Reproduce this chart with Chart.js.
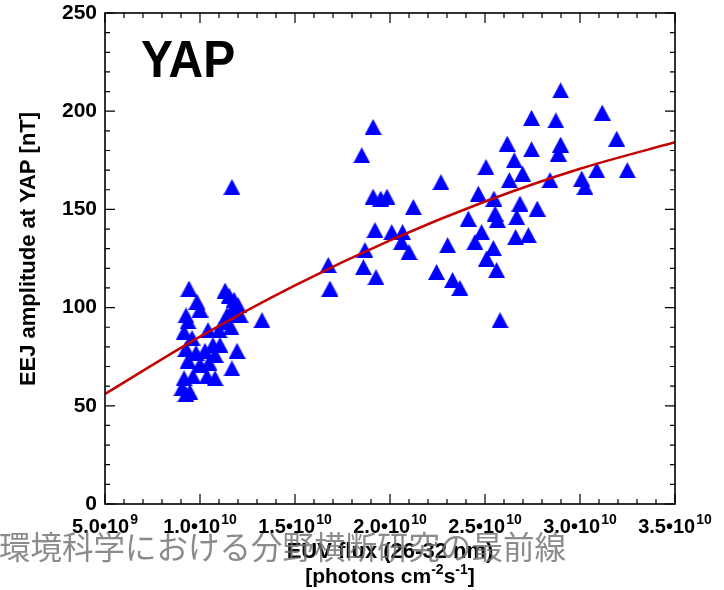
<!DOCTYPE html>
<html><head><meta charset="utf-8">
<script src="https://cdn.jsdelivr.net/npm/chart.js@4.4.0/dist/chart.umd.min.js"></script>
<style>html,body{margin:0;padding:0;background:#fff;}canvas{display:block;}</style>
</head><body>
<canvas id="c" width="724" height="590"></canvas>
<script>
// ---- data (x in units of 1e10 photons cm^-2 s^-1, y in nT) ----
const xTickBase = ['5.0•10','1.0•10','1.5•10','2.0•10','2.5•10','3.0•10','3.5•10'];
const xTickExp  = ['9','10','10','10','10','10','10'];
const yTickLabels = ['0','50','100','150','200','250'];
const euvFlux = [
  0.942,0.984,0.926,1.000,0.937,0.916,0.958,0.926,0.979,0.937,1.000,0.916,0.963,1.037,0.905,0.947,0.926,
  1.042,1.068,1.026,1.079,1.047,1.105,1.132,1.153,1.179,1.200,1.168,1.142,1.211,1.126,1.163,1.100,1.195,1.168,1.079,1.326,1.168,
  1.911,1.851,1.911,1.951,1.984,2.123,1.921,2.009,2.066,2.061,2.100,1.868,1.860,1.926,1.675,1.684,
  2.898,2.745,2.873,3.117,2.617,3.193,2.745,2.898,2.886,2.654,2.505,2.698,2.628,2.842,3.009,3.026,3.088,3.249,
  2.268,2.465,2.547,2.684,2.775,2.553,2.565,2.667,2.412,2.482,2.447,2.661,2.728,2.303,2.544,2.508,2.561,2.245,2.329,2.368,2.579
];
const eejAmplitude = [
  109.7,103.0,96.0,99.0,93.0,87.5,84.5,79.0,77.0,73.0,71.0,64.0,65.0,65.0,59.0,57.0,56.0,
  88.5,81.0,78.0,76.0,72.0,81.0,108.7,106.0,104.0,101.3,98.7,96.2,96.2,92.6,90.0,88.5,78.0,69.0,64.0,93.6,161.4,
  192.0,177.6,156.5,155.5,156.5,151.2,139.5,138.4,138.4,133.4,128.3,129.3,120.6,115.5,121.7,109.7,
  210.6,196.6,195.3,199.3,183.5,186.0,180.6,183.0,178.4,175.0,171.6,168.2,164.9,164.9,165.7,161.4,170.0,170.0,
  163.9,158.0,155.5,153.0,150.4,147.9,144.6,146.1,145.3,138.4,133.4,135.9,136.9,131.8,130.3,125.0,119.1,118.1,114.0,110.0,93.6
];
const fitFlux = [0.5,1.0,1.5,2.0,2.5,3.0,3.5];
const fitAmplitude = [56.0,85.2,111.3,134.2,154.0,170.7,184.2];
const stationLabel = 'YAP';
const xTitle1 = 'EUV flux (26-32 nm)';
const xTitle2 = [['[photons cm',''],['-2','sup'],['s',''],['-1','sup'],[']','']];
const yTitle = 'EEJ amplitude at YAP [nT]';
const watermark = '環境科学における分野横断研究の最前線';

// ---- styles ----
const FONT = '"Liberation Sans", Arial, Helvetica, sans-serif';
const tri = document.createElement('canvas');
tri.width = 17; tri.height = 16;
(function(){ const g = tri.getContext('2d'); g.fillStyle = '#0000ff'; g.beginPath(); g.moveTo(8.5,0); g.lineTo(17,16); g.lineTo(0,16); g.closePath(); g.fill(); })();

const frame = {
  id: 'frame',
  afterDatasetsDraw(chart) {
    const {ctx, chartArea: a, scales: {x, y}} = chart;
    ctx.save();
    ctx.strokeStyle = '#000';
    ctx.lineWidth = 1.2;
    ctx.beginPath();
    for (let i = 0; i <= 30; i++) {
      const px = x.getPixelForValue(0.5 + i * 0.1);
      const L = i % 5 === 0 ? 10 : 5;
      ctx.moveTo(px, a.bottom); ctx.lineTo(px, a.bottom - L);
      ctx.moveTo(px, a.top); ctx.lineTo(px, a.top + L);
    }
    for (let i = 0; i <= 25; i++) {
      const py = y.getPixelForValue(i * 10);
      const L = i % 5 === 0 ? 10 : 5;
      ctx.moveTo(a.left, py); ctx.lineTo(a.left + L, py);
      ctx.moveTo(a.right, py); ctx.lineTo(a.right - L, py);
    }
    ctx.stroke();
    ctx.lineWidth = 1.6;
    ctx.strokeRect(a.left, a.top, a.right - a.left, a.bottom - a.top);
    ctx.fillStyle = '#000';
    ctx.textBaseline = 'alphabetic';
    ctx.textAlign = 'left';
    // station label
    ctx.save();
    ctx.font = 'bold 51px ' + FONT;
    ctx.translate(141, 77); ctx.scale(0.94, 1);
    ctx.fillText(stationLabel, 0, 0);
    ctx.restore();
    // x tick labels with superscript exponents
    for (let i = 0; i < xTickBase.length; i++) {
      const px = x.getPixelForValue(0.5 + i * 0.5);
      ctx.font = 'bold 20px ' + FONT;
      const wb = ctx.measureText(xTickBase[i]).width;
      ctx.font = 'bold 14px ' + FONT;
      const we = ctx.measureText(xTickExp[i]).width;
      const start = px - (wb + we + 1) / 2;
      ctx.font = 'bold 20px ' + FONT;
      ctx.fillText(xTickBase[i], start, 533);
      ctx.font = 'bold 14px ' + FONT;
      ctx.fillText(xTickExp[i], start + wb + 1, 524);
    }
    // x title
    const cx = (a.left + a.right) / 2;
    ctx.font = 'bold 22px ' + FONT;
    ctx.textAlign = 'center';
    ctx.fillText(xTitle1, cx, 558);
    ctx.textAlign = 'left';
    let total = 0;
    for (const [t, k] of xTitle2) { ctx.font = (k ? 'bold 14px ' : 'bold 21px ') + FONT; total += ctx.measureText(t).width; }
    let xx = cx - total / 2;
    for (const [t, k] of xTitle2) {
      ctx.font = (k ? 'bold 14px ' : 'bold 21px ') + FONT;
      ctx.fillText(t, xx, k ? 574 : 583);
      xx += ctx.measureText(t).width;
    }
    // y title
    ctx.save();
    ctx.translate(29, 249); ctx.rotate(-Math.PI / 2);
    ctx.font = 'bold 22px ' + FONT;
    ctx.textAlign = 'center'; ctx.textBaseline = 'middle';
    ctx.fillText(yTitle, 0, 0);
    ctx.restore();
    ctx.restore();
  },
  afterDraw(chart) {
    const ctx = chart.ctx;
    ctx.save();
    ctx.font = '31.5px "Noto Sans CJK JP"';
    ctx.fillStyle = 'rgba(110,110,110,0.8)';
    ctx.textAlign = 'left';
    ctx.textBaseline = 'middle';
    ctx.fillText(watermark, -1, 547);
    ctx.restore();
  }
};

new Chart(document.getElementById('c'), {
  type: 'scatter',
  data: {
    datasets: [
      {
        label: 'fit',
        data: fitFlux.map((v, i) => ({x: v, y: fitAmplitude[i]})),
        showLine: true,
        borderColor: '#c40000',
        borderWidth: 2.5,
        pointRadius: 0,
        tension: 0.4,
        cubicInterpolationMode: 'monotone',
        order: 0
      },
      {
        label: 'YAP',
        data: euvFlux.map((v, i) => ({x: v, y: eejAmplitude[i]})),
        pointStyle: tri,
        pointRadius: 8,
        order: 1
      }
    ]
  },
  options: {
    responsive: false,
    animation: false,
    events: [],
    layout: {padding: {left: 0, right: 49, top: 13, bottom: 0}},
    plugins: {legend: {display: false}, tooltip: {enabled: false}},
    scales: {
      x: {
        type: 'linear', min: 0.5, max: 3.5,
        grid: {display: false, drawTicks: false},
        border: {display: false},
        ticks: {display: false, stepSize: 0.5},
        afterFit: s => { s.height = 86; s.paddingLeft = 0; s.paddingRight = 0; }
      },
      y: {
        type: 'linear', min: 0, max: 250,
        grid: {display: false, drawTicks: false},
        border: {display: false},
        ticks: {
          stepSize: 50, autoSkip: false, padding: 8,
          color: '#000', font: {family: FONT, size: 21, weight: 'bold'},
          callback: (v, i) => yTickLabels[i]
        },
        afterFit: s => { s.width = 105; s.paddingTop = 0; s.paddingBottom = 0; }
      }
    }
  },
  plugins: [frame]
});
</script>
</body></html>
